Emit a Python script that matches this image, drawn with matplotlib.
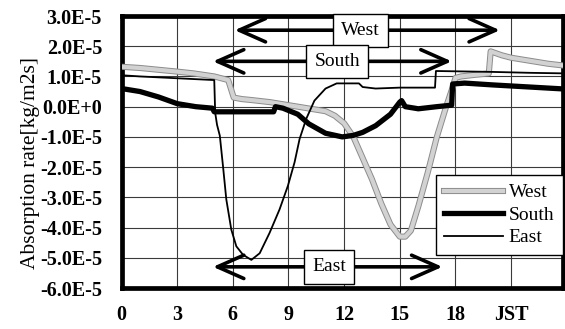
import matplotlib
matplotlib.use("Agg")
import matplotlib.pyplot as plt
import matplotlib.patheffects as pe
from matplotlib.ticker import FuncFormatter

# -----------------------------
# DATA (absorption rate in units of 1E-5 kg/m2s, time in hours JST)
# -----------------------------
west_t = [0, 1, 2, 3, 3.9, 5.0, 5.75, 6.05, 6.5, 7, 8, 9, 10, 10.5, 11, 11.5, 12,
          12.5, 13, 13.5, 14, 14.5, 15, 15.3, 15.6, 16, 16.5, 17, 17.5, 17.8,
          18.0, 18.3, 19, 19.8, 19.9, 20.5, 21, 22, 23, 24]
west_v = [1.32, 1.28, 1.22, 1.16, 1.10, 1.0, 0.88, 0.3, 0.25, 0.22, 0.15, 0.05,
          -0.05, -0.1, -0.15, -0.3, -0.55, -1.0, -1.7, -2.4, -3.2, -3.9, -4.3,
          -4.3, -4.1, -3.3, -2.2, -1.0, 0.0, 0.55, 0.95, 1.0, 1.05, 1.1, 1.83,
          1.7, 1.62, 1.52, 1.42, 1.35]

south_t = [0, 0.5, 1, 2, 3, 4, 4.9, 5.0, 6, 7, 8.2, 8.3, 8.7, 9.5, 10.1, 11,
           11.9, 12.5, 13, 13.7, 14.5, 15.0, 15.1, 15.3, 16, 17, 17.8, 17.85,
           18.5, 20, 22, 24]
south_v = [0.6, 0.55, 0.5, 0.32, 0.1, 0.0, -0.05, -0.17, -0.17, -0.17, -0.17,
           0.0, -0.05, -0.25, -0.57, -0.88, -1.0, -0.95, -0.85, -0.63, -0.25,
           0.15, 0.2, 0.0, -0.07, 0.0, 0.05, 0.75, 0.78, 0.72, 0.65, 0.58]

east_t = [0, 1, 2, 3, 4, 5.0, 5.05, 5.15, 5.3, 5.47, 5.65, 5.92, 6.19, 6.55,
          7.0, 7.45, 7.98, 8.52, 8.97, 9.33, 9.6, 9.96, 10.4, 11.0, 11.6, 12.8,
          13.0, 13.7, 15, 16.9, 16.95, 18, 20, 22, 24]
east_v = [1.04, 1.0, 0.97, 0.94, 0.91, 0.88, -0.2, -0.6, -0.96, -1.96, -3.07,
          -4.07, -4.62, -4.9, -5.07, -4.85, -4.18, -3.4, -2.62, -1.84, -1.07,
          -0.4, 0.2, 0.6, 0.77, 0.77, 0.65, 0.6, 0.63, 0.63, 1.18, 1.17, 1.15,
          1.12, 1.1]

x_ticks = [0, 3, 6, 9, 12, 15, 18, 21]
x_labels = ["0", "3", "6", "9", "12", "15", "18", "JST"]
y_ticks = [3, 2, 1, 0, -1, -2, -3, -4, -5, -6]

# irradiated periods: (name, start, end, level, label centre)
periods = [("West", 6.1, 20.4, 2.53, 12.9),
           ("South", 4.93, 17.8, 1.5, 11.64),
           ("East", 4.93, 17.3, -5.3, 11.2)]

SERIF = "Liberation Serif"


def fmt_y(v, pos):
    if abs(v) < 1e-9:
        return "0.0E+0"
    return f"{v:.1f}E-5"


fig = plt.figure(figsize=(5.65, 3.29), dpi=100)
ax = fig.add_axes([121.5 / 565, 1 - 288 / 329, (563 - 121.5) / 565, (288 - 16) / 329])

ax.plot(west_t, west_v, color="#d2d2d2", lw=3.0, label="West", zorder=3,
        path_effects=[pe.Stroke(linewidth=4.4, foreground="#8c8c8c"), pe.Normal()])
ax.plot(south_t, south_v, color="black", lw=3.8, label="South", zorder=4)
ax.plot(east_t, east_v, color="black", lw=1.3, label="East", zorder=5)

for name, t0, t1, lev, tc in periods:
    ax.annotate("", xy=(t0, lev), xytext=(t1, lev),
                arrowprops=dict(arrowstyle="<->,head_length=0.95,head_width=0.42",
                                mutation_scale=20, lw=2.6, color="black",
                                shrinkA=0, shrinkB=0), zorder=6)
    ax.text(tc, lev, name, family=SERIF, fontsize=14, ha="center", va="center",
            zorder=7, bbox=dict(boxstyle="square,pad=0.42", fc="white", ec="black", lw=1.0))

ax.set_xlim(0, 23.8)
ax.set_ylim(-6, 3)
ax.set_xticks(x_ticks)
ax.set_xticklabels(x_labels, family=SERIF, fontweight="bold", fontsize=14.5)
ax.set_yticks(y_ticks)
ax.yaxis.set_major_formatter(FuncFormatter(fmt_y))
for lab in ax.get_yticklabels():
    lab.set_family(SERIF)
    lab.set_fontweight("bold")
    lab.set_fontsize(14.5)
ax.tick_params(axis="both", length=0)
ax.tick_params(axis="x", pad=12)
ax.tick_params(axis="y", pad=14)
ax.grid(True, color="#3a3a3a", lw=0.8)
ax.set_axisbelow(True)
for sp in ax.spines.values():
    sp.set_linewidth(3.4)
ax.set_ylabel("Absorption rate[kg/m2s]", family=SERIF, fontsize=15.5, labelpad=2)
ax.yaxis.set_label_coords(-0.185, 0.46)

leg = ax.legend(loc="upper right", bbox_to_anchor=(563 / 565, 1 - 175 / 329),
                bbox_transform=fig.transFigure, prop=dict(family=SERIF, size=14),
                frameon=True, fancybox=False, framealpha=1, edgecolor="black",
                handlelength=3.0, handletextpad=0.3, labelspacing=0.25,
                borderpad=0.45, borderaxespad=0)
leg.get_frame().set_linewidth(1.0)
leg.set_zorder(8)

fig.savefig("out.png", dpi=100)
